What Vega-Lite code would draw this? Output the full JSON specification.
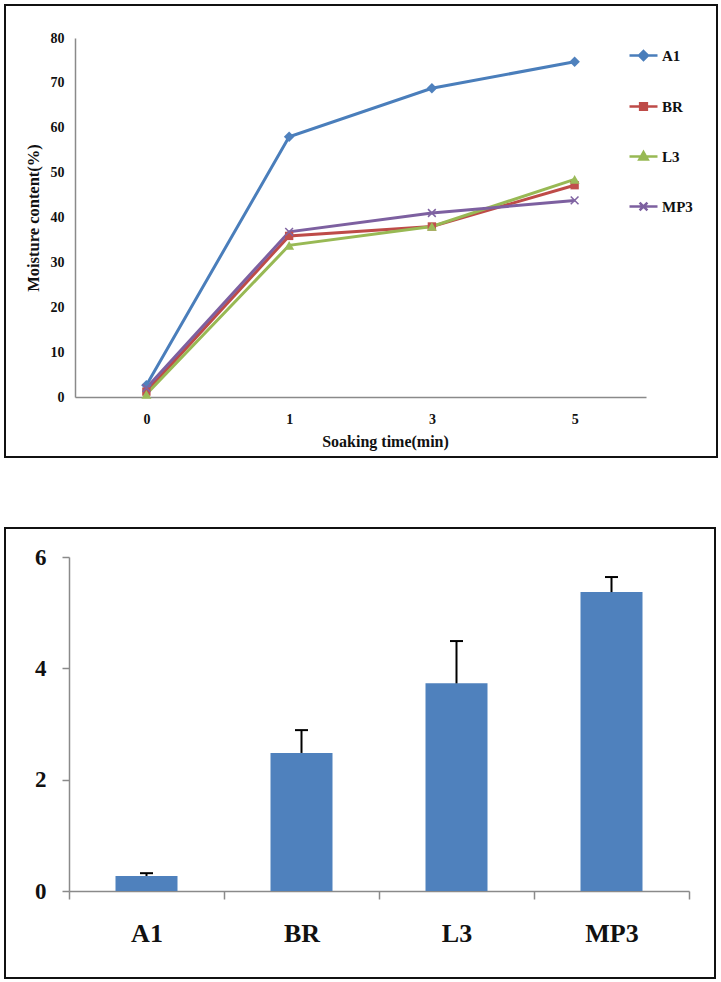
{
  "$schema": "https://vega.github.io/schema/vega-lite/v6.json",
  "background": "white",
  "padding": {"left": 4, "top": 4, "right": 4, "bottom": 4},
  "spacing": 69,
  "config": {
    "view": {"stroke": "#111111", "strokeWidth": 2},
    "axis": {
      "grid": false,
      "labelFont": "Liberation Serif, Times New Roman, serif",
      "titleFont": "Liberation Serif, Times New Roman, serif",
      "labelFontWeight": "bold",
      "titleFontWeight": "bold",
      "labelColor": "#111111",
      "titleColor": "#111111",
      "domainColor": "#8a8a8a",
      "tickColor": "#8a8a8a",
      "domainWidth": 1.5,
      "tickWidth": 1.5
    }
  },
  "vconcat": [
    {
      "width": 712,
      "height": 452,
      "data": {
        "values": [
          {"time": "0", "series": "A1", "moisture": 2.6},
          {"time": "1", "series": "A1", "moisture": 58.0},
          {"time": "3", "series": "A1", "moisture": 68.8},
          {"time": "5", "series": "A1", "moisture": 74.7},
          {"time": "0", "series": "BR", "moisture": 1.2},
          {"time": "1", "series": "BR", "moisture": 35.9},
          {"time": "3", "series": "BR", "moisture": 38.0},
          {"time": "5", "series": "BR", "moisture": 47.2},
          {"time": "0", "series": "L3", "moisture": 0.6},
          {"time": "1", "series": "L3", "moisture": 33.8},
          {"time": "3", "series": "L3", "moisture": 38.0},
          {"time": "5", "series": "L3", "moisture": 48.5},
          {"time": "0", "series": "MP3", "moisture": 2.0},
          {"time": "1", "series": "MP3", "moisture": 36.8},
          {"time": "3", "series": "MP3", "moisture": 41.0},
          {"time": "5", "series": "MP3", "moisture": 43.8}
        ]
      },
      "encoding": {
        "x": {
          "field": "time",
          "type": "ordinal",
          "scale": {"type": "point", "padding": 0.5, "range": [70, 641]},
          "axis": {
            "orient": "bottom",
            "offset": -60,
            "ticks": false,
            "tickSize": 0,
            "labelAngle": 0,
            "labelFontSize": 14,
            "labelPadding": 15,
            "title": "Soaking time(min)",
            "titleFontSize": 16,
            "titlePadding": 7,
            "titleX": 380
          }
        },
        "y": {
          "field": "moisture",
          "type": "quantitative",
          "scale": {"domain": [0, 80], "range": [392, 33], "nice": false, "zero": true},
          "axis": {
            "orient": "left",
            "offset": -70,
            "values": [0, 10, 20, 30, 40, 50, 60, 70, 80],
            "ticks": false,
            "tickSize": 0,
            "labelFontSize": 14,
            "labelPadding": 11,
            "title": "Moisture content(%)",
            "titleFontSize": 16.5,
            "titlePadding": 9
          }
        }
      },
      "layer": [
        {
          "mark": {"type": "line", "strokeWidth": 3},
          "encoding": {
            "color": {
              "field": "series",
              "type": "nominal",
              "scale": {"domain": ["A1", "BR", "L3", "MP3"], "range": ["#4A7EBB", "#BE4B48", "#98B954", "#7D60A0"]},
              "legend": {
                "orient": "none",
                "legendX": 623,
                "legendY": 35,
                "title": null,
                "padding": 0,
                "rowPadding": 26,
                "symbolSize": 784,
                "symbolStrokeWidth": 2.5,
                "labelOffset": 3,
                "labelFont": "Liberation Serif, Times New Roman, serif",
                "labelFontSize": 15,
                "labelFontWeight": "bold",
                "labelColor": "#111111",
                "encode": {
                  "symbols": {
                    "update": {
                      "shape": [
                        {"test": "datum.value === 'A1'", "value": "M-1,0H1M0,-0.32L0.32,0L0,0.32L-0.32,0Z"},
                        {"test": "datum.value === 'BR'", "value": "M-1,0H1M-0.24,-0.24H0.24V0.24H-0.24Z"},
                        {"test": "datum.value === 'L3'", "value": "M-1,0H1M0,-0.32L0.3,0.22H-0.3Z"},
                        {"value": "M-1,0H1M-0.28,-0.28L0.28,0.28M-0.28,0.28L0.28,-0.28"}
                      ],
                      "fill": [
                        {"test": "datum.value === 'A1'", "value": "#4A7EBB"},
                        {"test": "datum.value === 'BR'", "value": "#BE4B48"},
                        {"test": "datum.value === 'L3'", "value": "#98B954"},
                        {"value": "#7D60A0"}
                      ],
                      "stroke": [
                        {"test": "datum.value === 'A1'", "value": "#4A7EBB"},
                        {"test": "datum.value === 'BR'", "value": "#BE4B48"},
                        {"test": "datum.value === 'L3'", "value": "#98B954"},
                        {"value": "#7D60A0"}
                      ],
                      "strokeWidth": {"value": 2.5},
                      "size": {"value": 784},
                      "opacity": {"value": 1}
                    }
                  }
                }
              }
            }
          }
        },
        {
          "transform": [{"filter": "datum.series === 'A1'"}],
          "mark": {"type": "point", "shape": "diamond", "filled": true, "color": "#4F81BD", "size": 110, "opacity": 1}
        },
        {
          "transform": [{"filter": "datum.series === 'BR'"}],
          "mark": {"type": "point", "shape": "square", "filled": true, "color": "#C0504D", "size": 70, "opacity": 1}
        },
        {
          "transform": [{"filter": "datum.series === 'L3'"}],
          "mark": {"type": "point", "shape": "triangle-up", "filled": true, "color": "#9BBB59", "size": 100, "opacity": 1}
        },
        {
          "transform": [{"filter": "datum.series === 'MP3'"}],
          "mark": {"type": "point", "shape": "M-1,-1L1,1M-1,1L1,-1", "filled": false, "color": "#8064A2", "size": 60, "strokeWidth": 1.5, "opacity": 1}
        }
      ]
    },
    {
      "width": 710,
      "height": 450,
      "data": {
        "values": [
          {"sample": "A1", "value": 0.27, "upper": 0.32},
          {"sample": "BR", "value": 2.48, "upper": 2.89},
          {"sample": "L3", "value": 3.73, "upper": 4.49},
          {"sample": "MP3", "value": 5.37, "upper": 5.64}
        ]
      },
      "encoding": {
        "x": {
          "field": "sample",
          "type": "nominal",
          "sort": null,
          "scale": {"type": "band", "range": [64, 684], "paddingInner": 0, "paddingOuter": 0},
          "axis": {
            "orient": "bottom",
            "offset": -87,
            "tickBand": "extent",
            "tickSize": 8,
            "labelAngle": 0,
            "labelFontSize": 26,
            "labelPadding": 21,
            "title": null
          }
        }
      },
      "layer": [
        {
          "mark": {"type": "bar", "color": "#4F81BD", "width": {"band": 0.4}},
          "encoding": {
            "y": {
              "field": "value",
              "type": "quantitative",
              "scale": {"domain": [0, 6], "range": [363, 29], "nice": false},
              "axis": {
                "orient": "left",
                "offset": -64,
                "values": [0, 2, 4, 6],
                "format": "d",
                "tickSize": 7,
                "labelFontSize": 23,
                "labelPadding": 16,
                "title": null
              }
            }
          }
        },
        {
          "mark": {"type": "rule", "color": "#000000", "strokeWidth": 2},
          "encoding": {
            "y": {"field": "value", "type": "quantitative"},
            "y2": {"field": "upper"}
          }
        },
        {
          "mark": {"type": "tick", "color": "#000000", "thickness": 2, "size": 13, "opacity": 1},
          "encoding": {
            "y": {"field": "upper", "type": "quantitative"}
          }
        }
      ]
    }
  ]
}
